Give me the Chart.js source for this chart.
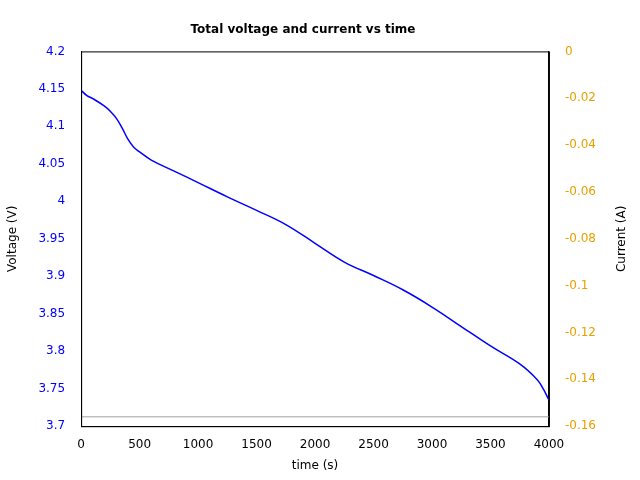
<!DOCTYPE html>
<html><head><script src="https://cdn.jsdelivr.net/npm/chart.js@4"></script>
<style>body{margin:0;background:#fff}</style></head>
<body><div style="width:640px;height:480px"><canvas id="c"></canvas></div>
<script>
const timeS=[0,50,100,200,250,300,350,400,450,500,600,800,1000,1250,1500,1750,2000,2250,2500,2750,3000,3250,3500,3750,3900,3950,4000];
const voltage=[4.148,4.141,4.137,4.127,4.12,4.111,4.098,4.083,4.072,4.066,4.055,4.04,4.025,4.006,3.988,3.969,3.944,3.919,3.901,3.882,3.859,3.833,3.807,3.783,3.762,3.75,3.735];
const currentT=[0,4000];
const current=[-0.156,-0.156];
const frame={id:'frame',afterDraw(ch){const a=ch.chartArea,x=ch.ctx;x.save();x.strokeStyle='#000';x.lineWidth=1;x.strokeRect(a.left+0.5,a.top+0.5,a.width,a.height);
x.translate(622,(a.top+a.bottom)/2);x.rotate(-Math.PI/2);x.fillStyle='#000';x.font='12px "DejaVu Sans"';x.textAlign='center';x.textBaseline='middle';x.fillText('Current (A)',0,0);x.restore();}};
new Chart(document.getElementById('c'),{type:'line',
data:{datasets:[
{data:timeS.map((t,i)=>({x:t,y:voltage[i]})),borderColor:'#0000ff',borderWidth:1.5,pointRadius:0,tension:0.4,yAxisID:'y'},
{data:currentT.map((t,i)=>({x:t,y:current[i]})),borderColor:'#a0a0a0',borderWidth:1,pointRadius:0,yAxisID:'y2'}]},
options:{responsive:true,maintainAspectRatio:false,animation:false,
layout:{padding:{left:2,right:36,top:11,bottom:3}},
plugins:{legend:{display:false},title:{display:true,text:'Total voltage and current vs time',color:'#000',font:{family:'DejaVu Sans',size:12,weight:'bold'},padding:{top:12,bottom:14}}},
scales:{
x:{type:'linear',min:0,max:4000,ticks:{stepSize:500,color:'#000',font:{family:'DejaVu Sans',size:12},maxRotation:0,callback:v=>String(v)},grid:{display:false},border:{color:'#000'},title:{display:true,text:'time (s)',color:'#000',font:{family:'DejaVu Sans',size:12}}},
y:{position:'left',min:3.7,max:4.2,ticks:{stepSize:0.05,color:'#0000ff',font:{family:'DejaVu Sans',size:12},callback:v=>+v.toFixed(2),padding:8},grid:{display:false},border:{color:'#000'},title:{display:true,text:'Voltage (V)',color:'#000',font:{family:'DejaVu Sans',size:12},padding:{bottom:10}}},
y2:{position:'right',min:-0.16,max:0,ticks:{stepSize:0.02,color:'#e8a000',font:{family:'DejaVu Sans',size:12},callback:v=>+v.toFixed(2),padding:8},grid:{display:false},border:{color:'#000'}}}},
plugins:[frame]});
</script></body></html>
